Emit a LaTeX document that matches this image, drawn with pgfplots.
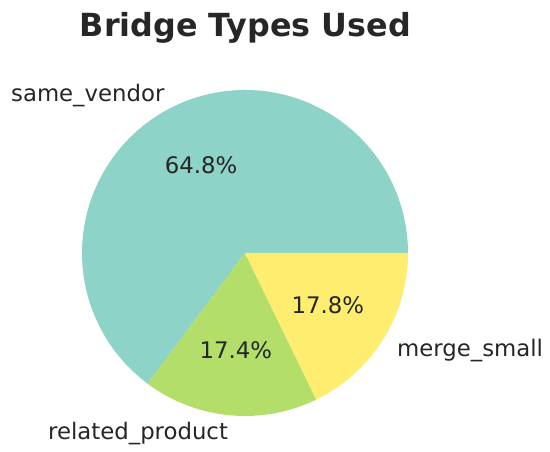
\documentclass[border=0pt]{standalone}
\usepackage{pgfplots}
\pgfplotsset{compat=1.18}
\usepackage{pgfplotstable}
\usepackage{fontspec}
\setmainfont{DejaVu Sans}
\definecolor{cA}{HTML}{8DD3C7}
\definecolor{cB}{HTML}{B3DE69}
\definecolor{cC}{HTML}{FFED6F}
\definecolor{txt}{HTML}{262626}
% pie shares (percent)
\pgfplotstableread{
label pct
same_vendor 64.8
related_product 17.4
merge_small 17.8
}\piedata
\begin{document}
\begin{tikzpicture}
\pgfplotstablegetelem{0}{pct}\of\piedata \let\pA\pgfplotsretval
\pgfplotstablegetelem{1}{pct}\of\piedata \let\pB\pgfplotsretval
\pgfplotstablegetelem{2}{pct}\of\piedata \let\pC\pgfplotsretval
\pgfmathsetmacro\eA{3.6*\pA}
\pgfmathsetmacro\eB{\eA+3.6*\pB}
\pgfmathsetmacro\eC{\eB+3.6*\pC}
\pgfmathsetmacro\mA{\eA/2}
\pgfmathsetmacro\mB{(\eA+\eB)/2}
\pgfmathsetmacro\mC{(\eB+\eC)/2}
\begin{axis}[
  width=550bp, height=452bp, scale only axis,
  hide axis, clip=false,
  xmin=-1.503, xmax=1.871, ymin=-1.221, ymax=1.552,
  font=\fontsize{22.8bp}{27bp}\selectfont,
]
\path (rel axis cs:0,0) rectangle (rel axis cs:1,1);
\addplot[fill=cA, draw=none, domain=0:\eA, samples=120, variable=\t]
  ({cos(t)},{sin(t)}) -- (axis cs:0,0) -- cycle;
\addplot[fill=cB, draw=none, domain=\eA:\eB, samples=40, variable=\t]
  ({cos(t)},{sin(t)}) -- (axis cs:0,0) -- cycle;
\addplot[fill=cC, draw=none, domain=\eB:\eC, samples=40, variable=\t]
  ({cos(t)},{sin(t)}) -- (axis cs:0,0) -- cycle;
% labels
\node[anchor=east, text=txt, inner sep=0pt] at (axis cs:{1.1*cos(\mA)},{1.1*sin(\mA)-0.018}) {same\_vendor};
\node[anchor=east, text=txt, inner sep=0pt] at (axis cs:{1.1*cos(\mB)},{1.1*sin(\mB)-0.012}) {related\_product};
\node[anchor=west, text=txt, inner sep=0pt] at (axis cs:{1.1*cos(\mC)},{1.1*sin(\mC)-0.012}) {merge\_small};
% percentages
\node[text=txt, inner sep=0pt] at (axis cs:{0.6*cos(\mA)},{0.6*sin(\mA)}) {\pA\%};
\node[text=txt, inner sep=0pt] at (axis cs:{0.6*cos(\mB)},{0.6*sin(\mB)}) {\pB\%};
\node[text=txt, inner sep=0pt] at (axis cs:{0.6*cos(\mC)},{0.6*sin(\mC)}) {\pC\%};
% title
\node[text=txt, inner sep=0pt, font=\fontsize{31.8bp}{36bp}\selectfont\bfseries] at (axis cs:0.003,1.38) {Bridge Types Used};
\end{axis}
\end{tikzpicture}
\end{document}
